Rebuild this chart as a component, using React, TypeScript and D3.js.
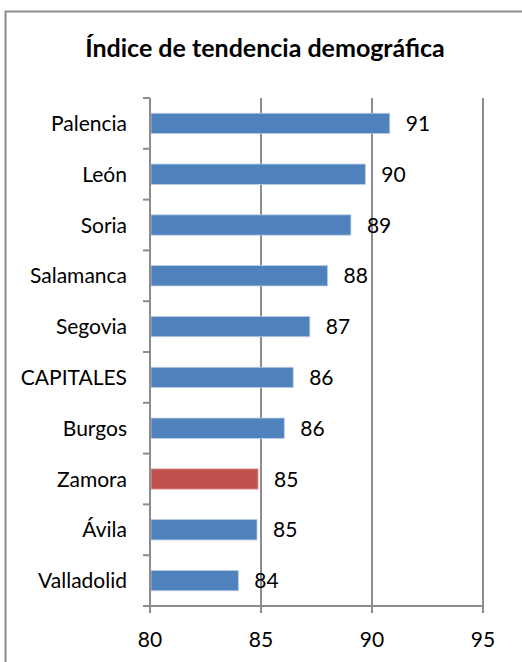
import React, { useEffect, useRef } from "react";
import * as d3 from "d3";

const categories = ["Palencia", "León", "Soria", "Salamanca", "Segovia", "CAPITALES", "Burgos", "Zamora", "Ávila", "Valladolid"];
const values = [90.8, 89.7, 89.05, 88.0, 87.2, 86.45, 86.05, 84.87, 84.82, 83.98];
const highlight = ["Zamora"];
const xTicks = [80, 85, 90, 95];

const W = 522;
const H = 662;
const FONT = "Lato, 'Open Sans', sans-serif";

function App() {
  const ref = useRef<SVGSVGElement | null>(null);

  useEffect(() => {
    if (!ref.current) return;
    const svg = d3.select(ref.current);
    svg.selectAll("*").remove();

    const left = 150, right = 483, top = 98, bottom = 606;

    const x = d3.scaleLinear().domain([80, 95]).range([left, right]);
    const y = d3.scaleBand<string>().domain(categories).range([top, bottom]).paddingInner(0.6).paddingOuter(0.3);
    const step = y.step();

    // outer frame
    svg.append("rect")
      .attr("x", 5.5).attr("y", 11.5)
      .attr("width", W + 20).attr("height", H + 20)
      .attr("fill", "white").attr("stroke", "#8a8a8a").attr("stroke-width", 2);

    svg.append("text")
      .attr("x", 265).attr("y", 57)
      .attr("text-anchor", "middle")
      .attr("font-family", FONT).attr("font-weight", 700).attr("font-size", 25)
      .text("Índice de tendencia demográfica");

    // gridlines
    svg.append("g").selectAll("line")
      .data(xTicks.slice(1))
      .join("line")
      .attr("x1", (d) => x(d)).attr("x2", (d) => x(d))
      .attr("y1", top).attr("y2", bottom)
      .attr("stroke", "#8c8c8c").attr("stroke-width", 2);

    // bars
    svg.append("g").selectAll("rect")
      .data(categories)
      .join("rect")
      .attr("x", x(80) + 1)
      .attr("y", (d) => y(d)!)
      .attr("width", (d, i) => x(values[i]) - x(80) - 1)
      .attr("height", y.bandwidth())
      .attr("fill", (d) => (highlight.includes(d) ? "#C0504D" : "#4F81BD"))
      .attr("stroke", (d) => (highlight.includes(d) ? "#e3b5b4" : "#b9cde5"))
      .attr("stroke-width", 0.8);

    // value labels
    svg.append("g").selectAll("text")
      .data(categories)
      .join("text")
      .attr("x", (d, i) => x(values[i]) + 16)
      .attr("y", (d) => y(d)! + y.bandwidth() / 2)
      .attr("dy", "0.36em")
      .attr("font-family", FONT).attr("font-size", 21)
      .attr("fill", "#000")
      .text((d, i) => d3.format(".0f")(values[i]));

    // y axis
    const yAxis = svg.append("g");
    yAxis.append("line")
      .attr("x1", left).attr("x2", left).attr("y1", top).attr("y2", bottom + 6)
      .attr("stroke", "#8c8c8c").attr("stroke-width", 2);
    yAxis.selectAll("line.tk")
      .data(d3.range(categories.length + 1))
      .join("line")
      .attr("class", "tk")
      .attr("x1", left - 7).attr("x2", left)
      .attr("y1", (i) => top + i * step).attr("y2", (i) => top + i * step)
      .attr("stroke", "#8c8c8c").attr("stroke-width", 2);
    yAxis.selectAll("text")
      .data(categories)
      .join("text")
      .attr("x", 127)
      .attr("y", (d) => y(d)! + y.bandwidth() / 2)
      .attr("dy", "0.36em")
      .attr("text-anchor", "end")
      .attr("font-family", FONT).attr("font-size", 21)
      .text((d) => d);

    // x axis
    const xAxis = svg.append("g");
    xAxis.append("line")
      .attr("x1", left - 7).attr("x2", right).attr("y1", bottom).attr("y2", bottom)
      .attr("stroke", "#8c8c8c").attr("stroke-width", 2);
    xAxis.selectAll("line.tk")
      .data(xTicks)
      .join("line")
      .attr("class", "tk")
      .attr("x1", (d) => x(d)).attr("x2", (d) => x(d))
      .attr("y1", bottom).attr("y2", bottom + 7)
      .attr("stroke", "#8c8c8c").attr("stroke-width", 2);
    xAxis.selectAll("text")
      .data(xTicks)
      .join("text")
      .attr("x", (d) => x(d))
      .attr("y", 639)
      .attr("dy", "0.36em")
      .attr("text-anchor", "middle")
      .attr("font-family", FONT).attr("font-size", 21)
      .text((d) => d);
  }, []);

  return (
    <svg
      ref={ref}
      width={W}
      height={H}
      style={{ position: "absolute", left: 0, top: 0, background: "white" }}
    />
  );
}

export default App;
